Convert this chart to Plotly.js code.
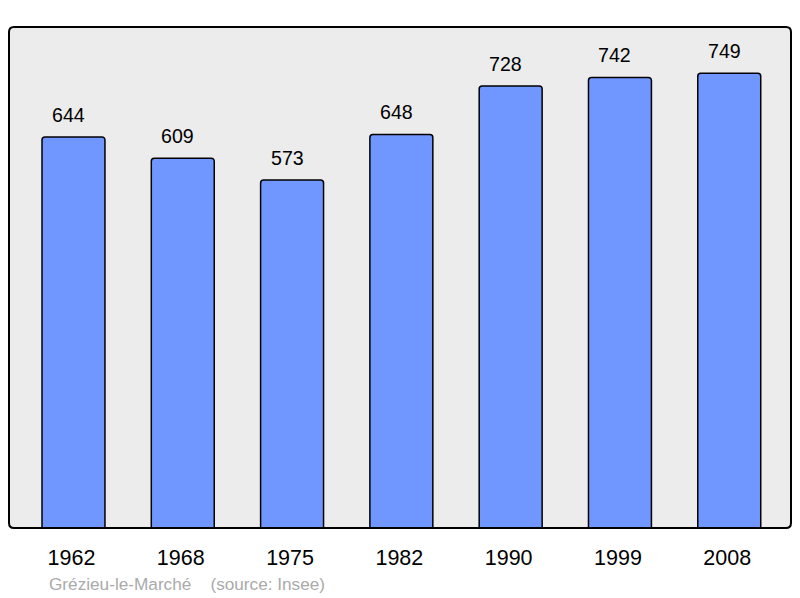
<!DOCTYPE html>
<html><head><meta charset="utf-8">
<script src="https://cdn.plot.ly/plotly-3.0.1.min.js"></script>
<style>html,body{margin:0;padding:0;background:#fff}#chart{width:800px;height:598px}</style>
</head><body><div id="chart"></div>
<script>
var years = ["1962","1968","1975","1982","1990","1999","2008"];
var population = [644, 609, 573, 648, 728, 742, 749];
var caption = "Grézieu-le-Marché    (source: Insee)";

var FONT = 'Liberation Sans, Arial, sans-serif';
var xs = years.map(function(_, i){ return i; });
var annotations = population.map(function(v, i){
  return {x: i, y: v, xref: 'x', yref: 'y', text: String(v), showarrow: false,
    yanchor: 'bottom', yshift: 9, xshift: -5, font: {family: FONT, size: 19.6, color: '#000'}};
});
annotations.push({xref: 'paper', yref: 'paper', x: (47-9)/782, y: -(584-528)/501,
  xanchor: 'left', yanchor: 'middle', text: caption, showarrow: false,
  font: {family: FONT, size: 17.2, color: '#aaaaaa'}});

var trace = {
  type: 'bar', x: xs, y: population, width: 0.576,
  marker: {color: '#7096ff', line: {color: '#000', width: 1.5}, cornerradius: 3},
  hoverinfo: 'none'
};

var rx = 5/782, ry = 5/501;
var framePath = 'M ' + rx + ',0 L ' + (1-rx) + ',0 Q 1,0 1,' + ry +
  ' L 1,' + (1-ry) + ' Q 1,1 ' + (1-rx) + ',1 L ' + rx + ',1 Q 0,1 0,' + (1-ry) +
  ' L 0,' + ry + ' Q 0,0 ' + rx + ',0 Z';

var layout = {
  width: 800, height: 598,
  margin: {l: 9, r: 9, t: 27, b: 70, pad: 0},
  paper_bgcolor: '#ffffff', plot_bgcolor: 'rgba(0,0,0,0)',
  showlegend: false,
  xaxis: {range: [-0.590, 6.565], tickmode: 'array', tickvals: xs, ticktext: years,
    showgrid: false, zeroline: false, ticks: '', showline: false, ticklabelstandoff: 14, ticklabelshift: -2,
    tickfont: {family: FONT, size: 21.5, color: '#000'}},
  yaxis: {range: [0, 825], showgrid: false, zeroline: false, showticklabels: false, ticks: '', showline: false},
  annotations: annotations,
  shapes: [
    {type: 'path', xref: 'paper', yref: 'paper', path: framePath, fillcolor: '#ececec',
      line: {width: 0}, layer: 'below'},
    {type: 'path', xref: 'paper', yref: 'paper', path: framePath,
      line: {color: '#000', width: 2}, layer: 'above'}]
};

Plotly.newPlot('chart', [trace], layout, {displayModeBar: false, staticPlot: true});
</script></body></html>
